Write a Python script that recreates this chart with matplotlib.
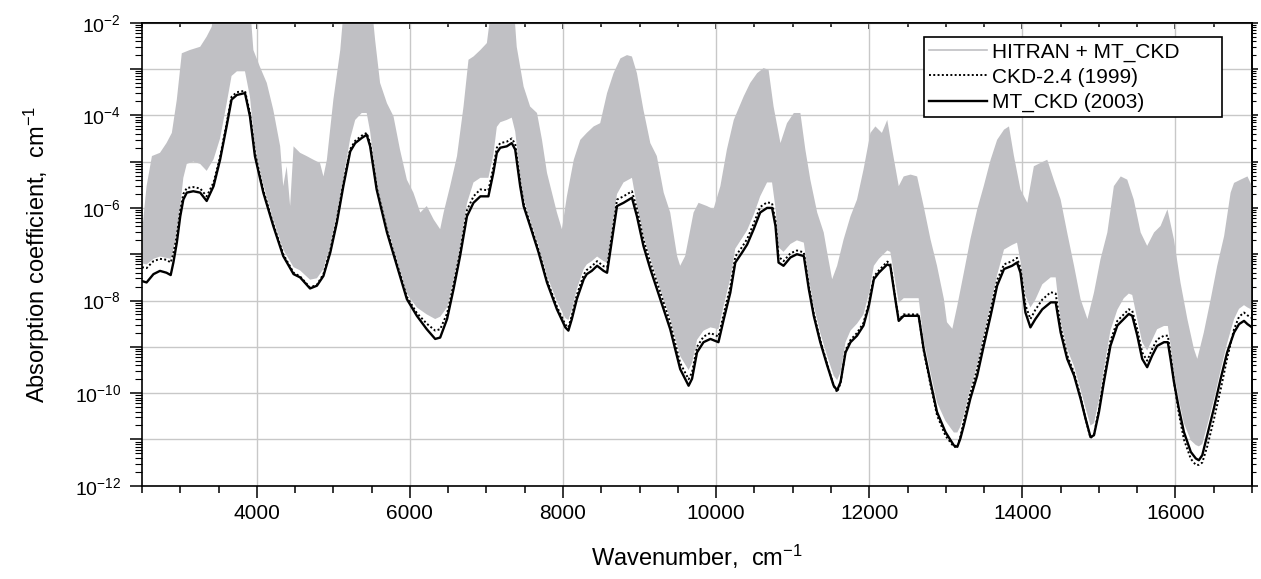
import numpy as np
import matplotlib
matplotlib.use("Agg")
import matplotlib.pyplot as plt
from matplotlib.lines import Line2D
from matplotlib.ticker import LogLocator, NullFormatter, FuncFormatter, MultipleLocator

plt.rcParams['font.family'] = ['Liberation Sans', 'DejaVu Sans']
plt.rcParams['mathtext.default'] = 'regular'

# water vapour continuum, wavenumber grid (cm-1)
wn = np.array([
    2500, 2560, 2650, 2735, 2820, 2875, 2910, 2955, 3000, 3040, 3085, 3170, 3260, 3345, 3435, 3520,
    3605, 3670, 3740, 3845, 3910, 3975, 4085, 4215, 4345, 4480, 4565, 4695, 4785, 4870, 4960, 5045,
    5130, 5220, 5285, 5370, 5435, 5480, 5565, 5700, 5830, 5960, 6090, 6220, 6330, 6395, 6485, 6570,
    6655, 6745, 6830, 6920, 7025, 7090, 7135, 7180, 7265, 7330, 7375, 7440, 7485, 7570, 7680, 7790,
    7920, 8030, 8070, 8115, 8180, 8270, 8310, 8375, 8445, 8530, 8575, 8615, 8660, 8705, 8790, 8900,
    8965, 9050, 9140, 9270, 9400, 9530, 9640, 9685, 9750, 9835, 9925, 10030, 10100, 10185, 10250, 10340,
    10405, 10490, 10575, 10665, 10730, 10775, 10815, 10880, 10970, 11055, 11145, 11210, 11275, 11360, 11450, 11535,
    11580, 11625, 11690, 11755, 11840, 11925, 11995, 12060, 12125, 12235, 12275, 12340, 12385, 12450, 12560, 12645,
    12710, 12800, 12885, 12995, 13105, 13150, 13190, 13235, 13320, 13410, 13495, 13585, 13670, 13760, 13865, 13930,
    13975, 14040, 14105, 14170, 14260, 14370, 14435, 14500, 14585, 14675, 14760, 14825, 14890, 14935, 15000, 15065,
    15150, 15240, 15325, 15390, 15435, 15500, 15565, 15630, 15695, 15760, 15850, 15900, 15935, 15980, 16045, 16110,
    16200, 16265, 16305, 16350, 16415, 16500, 16590, 16675, 16765, 16830, 16895, 16940, 17000])

# log10 of absorption coefficient, MT_CKD (2003)
mtckd_log = np.array([
    -7.58, -7.61, -7.43, -7.36, -7.40, -7.45, -7.18, -6.75, -6.18, -5.82, -5.67, -5.64, -5.67, -5.85, -5.53, -4.96,
    -4.24, -3.66, -3.56, -3.52, -4.02, -4.88, -5.67, -6.39, -7.04, -7.43, -7.50, -7.74, -7.68, -7.47, -6.96, -6.32,
    -5.53, -4.78, -4.60, -4.49, -4.42, -4.67, -5.60, -6.53, -7.25, -7.97, -8.33, -8.62, -8.83, -8.80, -8.40, -7.75,
    -7.04, -6.18, -5.89, -5.75, -5.75, -5.24, -4.81, -4.70, -4.67, -4.60, -4.74, -5.53, -5.96, -6.39, -6.96, -7.61,
    -8.19, -8.58, -8.65, -8.40, -7.97, -7.54, -7.43, -7.36, -7.25, -7.36, -7.40, -6.96, -6.46, -5.96, -5.89, -5.78,
    -6.18, -6.82, -7.32, -7.97, -8.62, -9.48, -9.84, -9.69, -9.12, -8.90, -8.83, -8.90, -8.40, -7.83, -7.18, -6.96,
    -6.79, -6.46, -6.10, -6.00, -6.00, -6.39, -7.18, -7.25, -7.07, -7.00, -7.04, -7.75, -8.33, -8.90, -9.40, -9.84,
    -9.94, -9.76, -9.12, -8.90, -8.76, -8.54, -8.11, -7.54, -7.40, -7.22, -7.25, -7.97, -8.44, -8.33, -8.33, -8.33,
    -9.04, -9.76, -10.41, -10.84, -11.13, -11.16, -10.98, -10.70, -10.12, -9.62, -8.98, -8.33, -7.68, -7.32, -7.25, -7.18,
    -7.40, -8.26, -8.58, -8.40, -8.19, -8.04, -8.04, -8.69, -9.26, -9.62, -10.12, -10.55, -10.95, -10.91, -10.41, -9.76,
    -8.98, -8.54, -8.40, -8.29, -8.33, -8.75, -9.26, -9.44, -9.19, -8.98, -8.90, -8.90, -9.26, -9.76, -10.34, -10.84,
    -11.27, -11.41, -11.45, -11.34, -10.91, -10.34, -9.69, -9.12, -8.69, -8.51, -8.44, -8.51, -8.58])

# log10 of absorption coefficient, CKD-2.4 (1999)
ckd24_log = np.array([
    -7.28, -7.30, -7.15, -7.10, -7.12, -7.18, -6.98, -6.60, -6.05, -5.70, -5.57, -5.55, -5.58, -5.75, -5.45, -4.90,
    -4.18, -3.60, -3.50, -3.47, -3.95, -4.80, -5.62, -6.35, -7.00, -7.40, -7.48, -7.72, -7.66, -7.43, -6.90, -6.26,
    -5.47, -4.73, -4.55, -4.44, -4.38, -4.60, -5.55, -6.48, -7.20, -7.92, -8.27, -8.50, -8.65, -8.62, -8.28, -7.65,
    -6.95, -6.05, -5.75, -5.60, -5.62, -5.12, -4.70, -4.60, -4.57, -4.50, -4.62, -5.45, -5.90, -6.34, -6.91, -7.56,
    -8.13, -8.52, -8.58, -8.32, -7.88, -7.44, -7.34, -7.26, -7.15, -7.26, -7.28, -6.84, -6.34, -5.82, -5.75, -5.64,
    -6.02, -6.68, -7.18, -7.82, -8.48, -9.35, -9.70, -9.55, -9.00, -8.78, -8.70, -8.78, -8.28, -7.70, -7.05, -6.84,
    -6.67, -6.34, -5.98, -5.88, -5.90, -6.28, -7.05, -7.15, -6.98, -6.92, -6.96, -7.68, -8.28, -8.86, -9.37, -9.84,
    -9.98, -9.78, -9.08, -8.85, -8.70, -8.48, -8.05, -7.48, -7.35, -7.16, -7.20, -7.95, -8.42, -8.30, -8.30, -8.30,
    -9.08, -9.82, -10.48, -10.92, -11.16, -11.16, -10.94, -10.60, -10.00, -9.48, -8.84, -8.20, -7.56, -7.22, -7.15, -7.08,
    -7.30, -8.10, -8.40, -8.20, -7.98, -7.82, -7.85, -8.58, -9.18, -9.56, -10.08, -10.55, -10.97, -10.90, -10.35, -9.66,
    -8.88, -8.44, -8.30, -8.19, -8.22, -8.62, -9.12, -9.30, -9.05, -8.84, -8.76, -8.76, -9.15, -9.75, -10.45, -11.00,
    -11.42, -11.55, -11.55, -11.50, -11.15, -10.58, -9.92, -9.25, -8.62, -8.35, -8.26, -8.32, -8.38])

# HITRAN + MT_CKD line-by-line spectrum: lower edge of the band (same grid as wn)
hitran_low_log = np.array([
    -7.20, -7.22, -7.10, -7.05, -7.08, -7.10, -6.90, -6.50, -5.95, -5.35, -5.05, -5.00, -5.05, -5.20, -4.95, -4.50,
    -3.75, -3.15, -3.05, -3.05, -3.60, -4.65, -5.50, -6.25, -6.90, -7.28, -7.35, -7.55, -7.52, -7.32, -6.80, -6.15,
    -5.35, -4.50, -4.10, -3.95, -3.95, -4.35, -5.45, -6.40, -7.12, -7.85, -8.15, -8.30, -8.40, -8.35, -8.15, -7.55,
    -6.85, -5.90, -5.45, -5.35, -5.35, -4.85, -4.25, -4.15, -4.10, -4.05, -4.35, -5.30, -5.80, -6.25, -6.82, -7.46,
    -8.02, -8.38, -8.42, -8.20, -7.75, -7.32, -7.22, -7.15, -7.05, -7.15, -7.18, -6.75, -6.20, -5.70, -5.45, -5.35,
    -5.95, -6.60, -7.10, -7.75, -8.40, -9.20, -9.50, -9.35, -8.85, -8.65, -8.58, -8.62, -8.10, -7.52, -6.88, -6.65,
    -6.48, -6.15, -5.75, -5.45, -5.45, -6.00, -6.85, -6.95, -6.78, -6.70, -6.75, -7.52, -8.12, -8.70, -9.20, -9.62,
    -9.72, -9.55, -8.90, -8.65, -8.50, -8.30, -7.85, -7.25, -7.10, -6.92, -6.95, -7.60, -8.05, -7.95, -7.95, -7.95,
    -8.85, -9.55, -10.20, -10.60, -10.85, -10.85, -10.72, -10.48, -9.90, -9.40, -8.76, -8.10, -7.45, -6.90, -6.80, -6.75,
    -7.15, -7.90, -8.15, -7.98, -7.65, -7.50, -7.50, -8.45, -9.05, -9.42, -9.92, -10.32, -10.70, -10.65, -10.15, -9.48,
    -8.65, -8.20, -7.95, -7.85, -7.88, -8.40, -8.90, -9.08, -8.85, -8.62, -8.55, -8.55, -8.95, -9.55, -10.15, -10.65,
    -11.02, -11.12, -11.15, -11.10, -10.70, -10.15, -9.50, -8.92, -8.40, -8.18, -8.10, -8.15, -8.20])

# HITRAN + MT_CKD: upper edge of the line spectrum
hitran_high_wn = np.array([
    2500, 2560, 2630, 2735, 2820, 2890, 2955, 3020, 3125, 3260, 3345, 3410, 3455, 3910, 3955, 4040,
    4130, 4215, 4305, 4345, 4390, 4435, 4480, 4565, 4650, 4740, 4825, 4870, 4915, 5000, 5090, 5140,
    5500, 5545, 5610, 5700, 5785, 5870, 5960, 6045, 6135, 6220, 6310, 6395, 6440, 6525, 6615, 6700,
    6765, 6830, 6920, 7005, 7070, 7355, 7395, 7485, 7570, 7660, 7725, 7790, 7855, 7920, 7985, 8050,
    8140, 8225, 8310, 8400, 8485, 8575, 8660, 8750, 8835, 8900, 8965, 9050, 9140, 9225, 9315, 9400,
    9490, 9530, 9595, 9705, 9770, 9880, 9965, 10055, 10140, 10230, 10360, 10445, 10535, 10620, 10685, 10750,
    10840, 10925, 11015, 11100, 11165, 11230, 11320, 11405, 11450, 11515, 11580, 11665, 11755, 11840, 11925, 12015,
    12080, 12165, 12235, 12300, 12385, 12450, 12540, 12625, 12710, 12800, 12885, 12975, 13015, 13085, 13150, 13235,
    13320, 13410, 13495, 13585, 13670, 13760, 13825, 13890, 13975, 14065, 14150, 14235, 14325, 14410, 14500, 14585,
    14675, 14760, 14850, 14935, 15020, 15110, 15195, 15285, 15370, 15455, 15545, 15630, 15720, 15805, 15895, 15980,
    16065, 16155, 16240, 16285, 16370, 16460, 16545, 16635, 16720, 16765, 16850, 16940, 17000])
hitran_high_log = np.array([
    -6.53, -5.53, -4.88, -4.81, -4.60, -4.38, -3.66, -2.66, -2.59, -2.52, -2.30, -2.09, -1.60, -1.60, -2.59, -2.95,
    -3.30, -3.88, -4.67, -5.53, -5.10, -5.96, -4.67, -4.81, -4.88, -4.96, -5.03, -5.32, -4.96, -3.66, -2.59, -1.60,
    -1.60, -2.37, -3.30, -3.74, -4.02, -4.74, -5.39, -5.67, -6.10, -5.96, -6.25, -6.46, -6.10, -5.53, -4.88, -3.81,
    -2.80, -2.73, -2.59, -2.44, -1.60, -1.60, -2.52, -3.38, -3.81, -3.95, -4.53, -5.24, -5.67, -6.10, -6.46, -5.75,
    -4.96, -4.53, -4.38, -4.24, -4.17, -3.52, -3.09, -2.77, -2.70, -2.73, -3.09, -3.88, -4.60, -4.88, -5.67, -6.10,
    -7.04, -7.25, -7.04, -6.10, -5.89, -5.96, -6.03, -5.53, -4.74, -4.10, -3.59, -3.30, -3.09, -2.98, -3.02, -3.81,
    -4.60, -4.17, -3.95, -3.95, -4.74, -5.39, -6.10, -6.53, -6.96, -7.54, -7.25, -6.68, -6.18, -5.82, -5.17, -4.38,
    -4.24, -4.38, -4.10, -4.74, -5.53, -5.32, -5.28, -5.32, -5.96, -6.68, -7.25, -7.97, -8.47, -8.61, -8.11, -7.40,
    -6.68, -6.03, -5.53, -4.96, -4.53, -4.31, -4.24, -4.88, -5.60, -5.89, -5.10, -5.03, -4.96, -5.39, -5.82, -6.53,
    -7.25, -7.97, -8.40, -7.83, -7.11, -6.53, -5.53, -5.32, -5.39, -5.82, -6.53, -6.82, -6.53, -6.39, -6.03, -6.68,
    -7.61, -8.40, -9.04, -9.26, -8.69, -7.97, -7.25, -6.61, -5.67, -5.46, -5.39, -5.32, -5.53])

x_major = [4000, 6000, 8000, 10000, 12000, 14000, 16000]
gray = '#c0c0c4'

fig = plt.figure(figsize=(12.61, 5.79), dpi=100)
ax = fig.add_axes([0.1126, 0.1611, 0.8803, 0.7997])

# line-by-line spectrum drawn as a filled band between its lower and upper edges
band_x = np.concatenate([hitran_high_wn, wn[::-1]])
band_y = np.concatenate([10.0 ** hitran_high_log, 10.0 ** hitran_low_log[::-1]])
ax.fill(band_x, band_y, color=gray, lw=0, zorder=2)

ax.plot(wn, 10.0 ** ckd24_log, color='black', lw=1.4, ls=(0, (1.0, 1.2)), zorder=3)
ax.plot(wn, 10.0 ** mtckd_log, color='black', lw=1.7, zorder=4)

ax.set_yscale('log')
ax.set_xlim(2500, 17000)
ax.set_ylim(1e-12, 1e-2)

ax.set_xticks(x_major)
ax.xaxis.set_minor_locator(MultipleLocator(500))
ax.yaxis.set_major_locator(LogLocator(base=10, numticks=20))
ax.yaxis.set_minor_locator(LogLocator(base=10, subs=np.arange(2, 10), numticks=200))
ax.yaxis.set_minor_formatter(NullFormatter())


def even_decades(v, pos):
    e = int(round(np.log10(v)))
    return f'$10^{{{e}}}$' if e % 2 == 0 else ''


ax.yaxis.set_major_formatter(FuncFormatter(even_decades))

ax.grid(True, which='major', color='#c8c8c8', lw=1.0)
ax.set_axisbelow(True)

ax.tick_params(axis='x', which='major', direction='out', length=8.5, width=1.1, pad=5, labelsize=15)
ax.tick_params(axis='x', which='minor', direction='out', length=5, width=1.1)
ax.tick_params(axis='y', which='major', direction='out', length=9, width=1.1, pad=6, labelsize=14)
ax.tick_params(axis='y', which='minor', direction='out', length=5, width=0.8)

top = ax.secondary_xaxis('top')
top.set_xticks(x_major)
top.xaxis.set_minor_locator(MultipleLocator(500))
top.tick_params(axis='x', which='major', direction='in', length=4, width=1.1, labeltop=False)
top.tick_params(axis='x', which='minor', direction='in', length=3, width=1.1)

right = ax.secondary_yaxis('right')
right.yaxis.set_major_locator(LogLocator(base=10, numticks=20))
right.yaxis.set_minor_locator(LogLocator(base=10, subs=np.arange(2, 10), numticks=200))
right.tick_params(axis='y', which='major', direction='out', length=4, width=1.1, labelright=False)
right.tick_params(axis='y', which='minor', direction='out', length=3, width=0.8)

for sp in list(ax.spines.values()) + [top.spines['top'], right.spines['right']]:
    sp.set_linewidth(1.2)

ax.set_xlabel('Wavenumber,  cm$^{-1}$', fontsize=17, labelpad=14)
ax.set_ylabel('Absorption coefficient,  cm$^{-1}$', fontsize=17, labelpad=16)

handles = [
    Line2D([], [], color=gray, lw=1.2),
    Line2D([], [], color='black', lw=1.4, ls=(0, (1.0, 1.2))),
    Line2D([], [], color='black', lw=1.7),
]
labels = ['HITRAN + MT_CKD', 'CKD-2.4 (1999)', 'MT_CKD (2003)']
leg = ax.legend(handles, labels, loc='upper left', bbox_to_anchor=(0.7045, 0.7877, 0.2685, 0.1813),
                mode='expand', borderaxespad=0, fontsize=15, handlelength=2.75, handletextpad=0.25,
                labelspacing=0.3, borderpad=0.25, fancybox=False, framealpha=1)
leg.get_frame().set_edgecolor('black')
leg.get_frame().set_linewidth(1.2)

fig.savefig('out.png', dpi=100)
